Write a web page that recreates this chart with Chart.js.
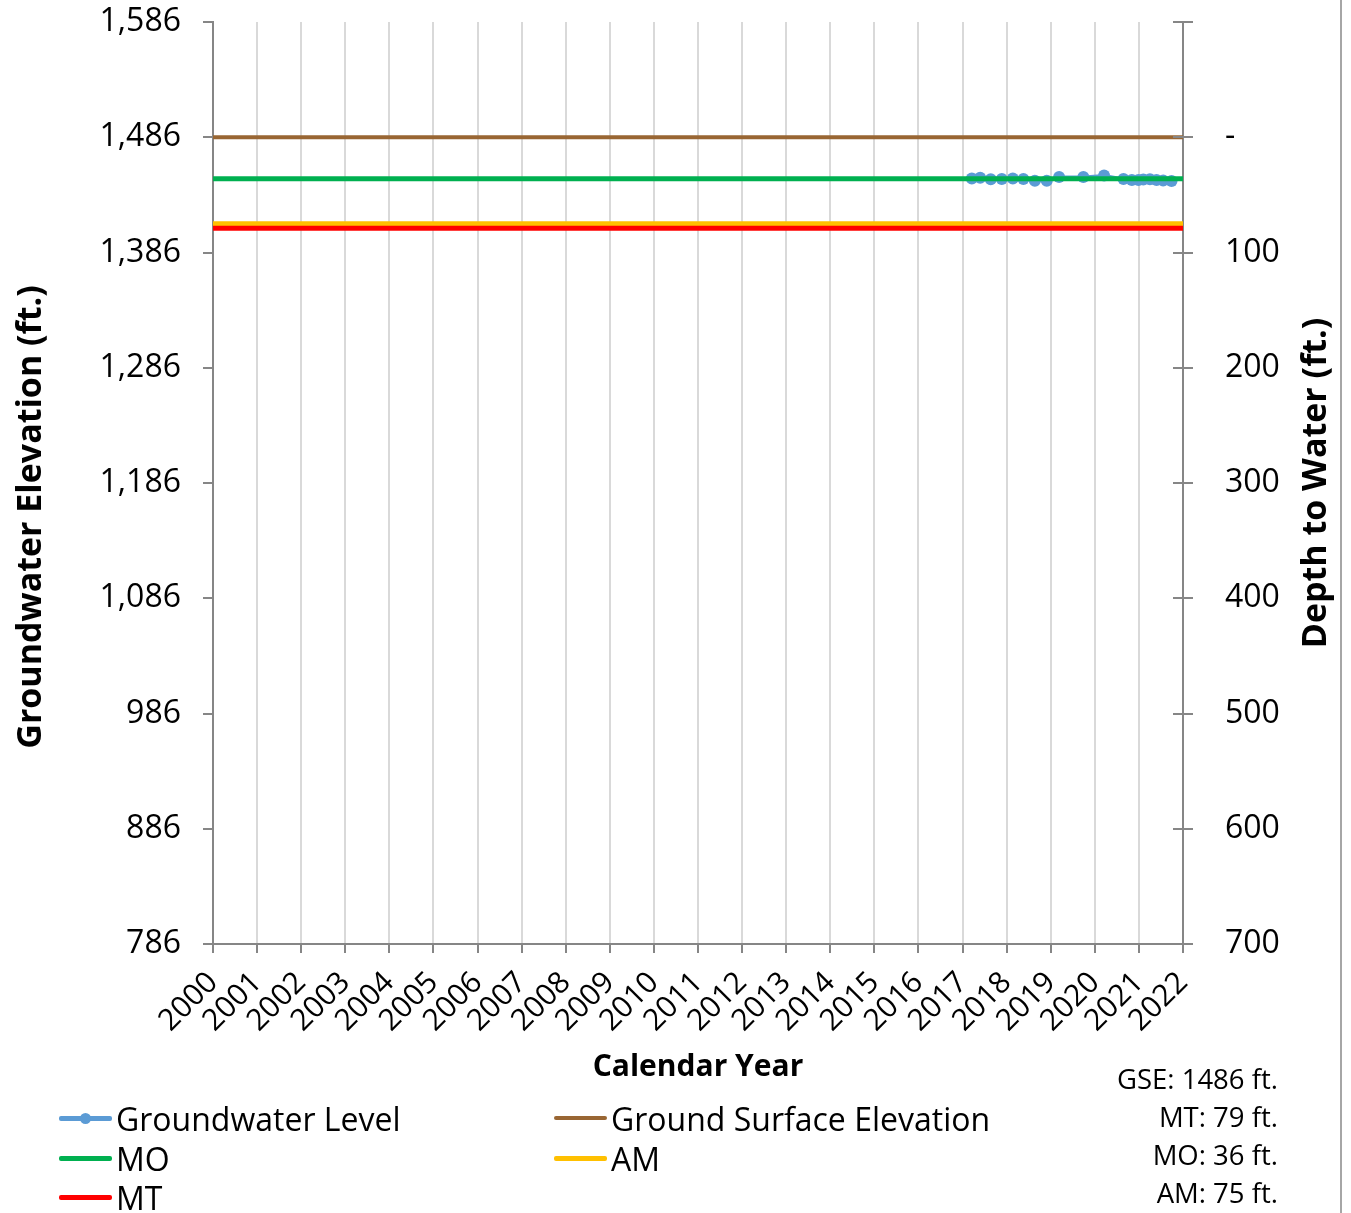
<!DOCTYPE html>
<html>
<head>
<meta charset="utf-8">
<script src="https://cdn.jsdelivr.net/npm/chart.js@4.4.1/dist/chart.umd.min.js"></script>
<style>
  html, body { margin: 0; padding: 0; background: #fff; }
  #wrap { position: relative; width: 1351px; height: 1213px; overflow: hidden; font-family: 'Open Sans', sans-serif; color: #000; }
  #chart { position: absolute; left: 0; top: 0; }
  .frame { position: absolute; left: 1340px; top: 0; width: 2px; height: 1213px; background: #a6a6a6; }
  .leg { position: absolute; height: 40px; display: flex; align-items: center; font-size: 32px; white-space: nowrap; }
  .sw { position: relative; width: 53px; height: 5px; margin-right: 4px; border-radius: 2px; }
  .sw.thin { height: 4px; }
  .dot { position: absolute; left: 21px; top: -3px; width: 11px; height: 11px; border-radius: 50%; }
  .stats { position: absolute; right: 73px; top: 1060px; text-align: right; font-size: 27.5px; line-height: 38px; white-space: nowrap; }
</style>
</head>
<body>
<div id="wrap">
  <canvas id="chart" width="1351" height="1213"></canvas>
  <div class="frame"></div>
  <div id="legend"></div>
  <div class="stats" id="stats"></div>
</div>
<script>
// Well reference values (ft.)
const gse = 1486;          // ground surface elevation
const depthMT = 79;        // minimum threshold, depth below surface
const depthMO = 36;        // measurable objective, depth below surface
const depthAM = 75;        // action margin, depth below surface

// Axis ranges and tick labels
const yearTicks = [2000, 2001, 2002, 2003, 2004, 2005, 2006, 2007, 2008, 2009, 2010, 2011,
                   2012, 2013, 2014, 2015, 2016, 2017, 2018, 2019, 2020, 2021, 2022];
const elevTicks = [786, 886, 986, 1086, 1186, 1286, 1386, 1486, 1586];
const depthTicks = [-100, 0, 100, 200, 300, 400, 500, 600, 700];

// Groundwater level measurements (decimal year, elevation ft.)
const gwYears = [2017.21, 2017.40, 2017.64, 2017.89, 2018.14, 2018.38, 2018.64, 2018.91, 2019.19,
                 2019.74, 2020.21, 2020.65, 2020.84, 2020.99, 2021.10, 2021.25, 2021.40, 2021.55, 2021.74];
const gwElev  = [1450.3, 1450.9, 1449.5, 1449.8, 1450.3, 1449.8, 1448.2, 1448.2, 1451.6,
                 1451.6, 1452.8, 1449.8, 1448.9, 1448.9, 1449.4, 1449.6, 1448.9, 1448.5, 1448.1];

const COLORS = { gw: '#5b9bd5', gse: '#996633', mo: '#00b050', am: '#ffc000', mt: '#ff0000' };
const AXIS = '#868686';
const FONT = "'Open Sans', sans-serif";

const spanLine = v => [{ x: yearTicks[0], y: v }, { x: yearTicks[yearTicks.length - 1], y: v }];

const fixedTicks = list => scale => { scale.ticks = list.map(v => ({ value: v })); };

// Keep the plot box fixed: no extra room for label overflow
const fitVertical = w => s => { s.width = w; s.paddingTop = 0; s.paddingBottom = 0; };
const fitHorizontal = h => s => { s.height = h; s.paddingLeft = 0; s.paddingRight = 0; };

// Axis titles and the inner half of the right-axis cross ticks
const decor = {
  id: 'decor',
  afterDraw(c) {
    const { ctx, chartArea: a, scales } = c;
    ctx.save();
    ctx.strokeStyle = AXIS;
    ctx.lineWidth = 2;
    scales.y2.ticks.forEach(t => {
      const yy = Math.round(scales.y2.getPixelForValue(t.value));
      ctx.beginPath();
      ctx.moveTo(a.right - 10, yy);
      ctx.lineTo(a.right, yy);
      ctx.stroke();
    });
    ctx.fillStyle = '#000';
    ctx.textAlign = 'center';
    ctx.textBaseline = 'middle';
    ctx.font = `bold 30px ${FONT}`;
    ctx.fillText('Calendar Year', (a.left + a.right) / 2, 1067);
    ctx.font = `bold 34px ${FONT}`;
    ctx.save();
    ctx.translate(31, (a.top + a.bottom) / 2 + 34);
    ctx.rotate(-Math.PI / 2);
    ctx.fillText('Groundwater Elevation (ft.)', 0, 0);
    ctx.restore();
    ctx.save();
    ctx.translate(1316, (a.top + a.bottom) / 2);
    ctx.rotate(-Math.PI / 2);
    ctx.fillText('Depth to Water (ft.)', 0, 0);
    ctx.restore();
    ctx.restore();
  }
};

new Chart(document.getElementById('chart'), {
  type: 'line',
  data: {
    datasets: [
      { label: 'Groundwater Level', data: gwYears.map((x, i) => ({ x, y: gwElev[i] })),
        borderColor: COLORS.gw, backgroundColor: COLORS.gw, borderWidth: 3,
        pointRadius: 6, pointBorderWidth: 0, pointBackgroundColor: COLORS.gw, order: 5 },
      { label: 'Ground Surface Elevation', data: spanLine(gse),
        borderColor: COLORS.gse, borderWidth: 4, pointRadius: 0, order: 4 },
      { label: 'MO', data: spanLine(gse - depthMO),
        borderColor: COLORS.mo, borderWidth: 5, pointRadius: 0, order: 1 },
      { label: 'AM', data: spanLine(gse - depthAM),
        borderColor: COLORS.am, borderWidth: 5, pointRadius: 0, order: 3 },
      { label: 'MT', data: spanLine(gse - depthMT),
        borderColor: COLORS.mt, borderWidth: 5, pointRadius: 0, order: 2 }
    ]
  },
  options: {
    responsive: false,
    animation: false,
    events: [],
    layout: { padding: { top: 22, left: 0, right: 0, bottom: 0 } },
    plugins: { legend: { display: false }, tooltip: { enabled: false } },
    scales: {
      x: {
        type: 'linear', min: yearTicks[0], max: yearTicks[yearTicks.length - 1],
        afterBuildTicks: fixedTicks(yearTicks),
        afterFit: fitHorizontal(269),
        ticks: { minRotation: 45, maxRotation: 45, autoSkip: false, padding: 12, color: '#000',
                 font: { family: FONT, size: 30 }, callback: v => String(v) },
        grid: { color: '#d9d9d9', lineWidth: 2, tickColor: AXIS, tickLength: 9 },
        border: { color: AXIS, width: 2 }
      },
      y: {
        position: 'left', min: elevTicks[0], max: elevTicks[elevTicks.length - 1],
        afterBuildTicks: fixedTicks(elevTicks),
        afterFit: fitVertical(213),
        ticks: { padding: 22, color: '#000', font: { family: FONT, size: 32 },
                 callback: v => v.toLocaleString('en-US') },
        grid: { drawOnChartArea: false, tickColor: AXIS, tickLength: 10, lineWidth: 2 },
        border: { color: AXIS, width: 2 }
      },
      y2: {
        position: 'right', reverse: true,
        min: depthTicks[0], max: depthTicks[depthTicks.length - 1],
        afterBuildTicks: fixedTicks(depthTicks),
        afterFit: fitVertical(168),
        ticks: { padding: 32, color: '#000', font: { family: FONT, size: 32 },
                 callback: v => v < 0 ? '' : (v === 0 ? '-' : String(v)) },
        grid: { drawOnChartArea: false, tickColor: AXIS, tickLength: 10, lineWidth: 2 },
        border: { color: AXIS, width: 2 }
      }
    }
  },
  plugins: [decor]
});

// Legend entries
const legendItems = [
  { text: 'Groundwater Level', color: COLORS.gw, marker: true, left: 59, top: 1118 },
  { text: 'Ground Surface Elevation', color: COLORS.gse, thin: true, left: 554, top: 1118 },
  { text: 'MO', color: COLORS.mo, left: 59, top: 1158 },
  { text: 'AM', color: COLORS.am, left: 554, top: 1158 },
  { text: 'MT', color: COLORS.mt, left: 59, top: 1197 }
];
const legend = document.getElementById('legend');
legendItems.forEach(it => {
  const d = document.createElement('div');
  d.className = 'leg';
  d.style.left = it.left + 'px';
  d.style.top = (it.top - 20) + 'px';
  const sw = document.createElement('span');
  sw.className = 'sw' + (it.thin ? ' thin' : '');
  sw.style.background = it.color;
  if (it.marker) {
    const dot = document.createElement('span');
    dot.className = 'dot';
    dot.style.background = it.color;
    sw.appendChild(dot);
  }
  d.appendChild(sw);
  d.appendChild(document.createTextNode(it.text));
  legend.appendChild(d);
});

// Reference value summary
document.getElementById('stats').innerHTML = [
  `GSE: ${gse} ft.`, `MT: ${depthMT} ft.`, `MO: ${depthMO} ft.`, `AM: ${depthAM} ft.`
].join('<br>');
</script>
</body>
</html>
